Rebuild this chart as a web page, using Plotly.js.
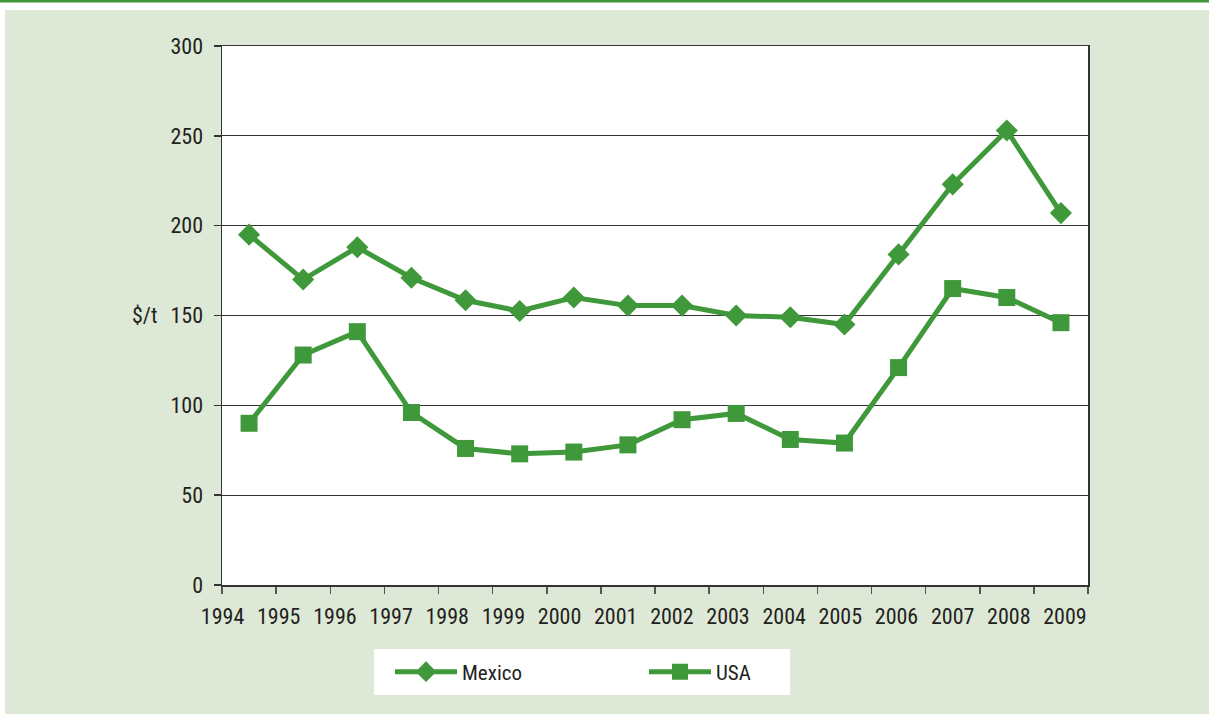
<!DOCTYPE html>
<html>
<head>
<meta charset="utf-8">
<script src="https://cdn.plot.ly/plotly-3.0.1.min.js"></script>
<style>html,body{margin:0;padding:0;background:#fff;}#chart{width:1209px;height:714px;}</style>
</head>
<body>
<div id="chart"></div>
<script>
const years = [1994,1995,1996,1997,1998,1999,2000,2001,2002,2003,2004,2005,2006,2007,2008,2009];
const mexico = [195,170,188,171,158.5,152.5,160,155.5,155.5,150,149,145,184,223,253,207];
const usa = [90,128,141,96,76,73,74,78,92,95.5,81,79,121,165,160,146];
const yTicks = [0,50,100,150,200,250,300];
const yLabel = "$/t";

const green = "#3f983a";
const bg = "#dde8d6";
const FONT = "'Liberation Sans Narrow', 'Arial Narrow', 'Roboto Condensed', 'Liberation Sans', Arial, sans-serif";

const L = 222, R = 121, T = 46, B = 129, W = 1209, H = 714;
const pw = W - L - R, ph = H - T - B;
const px = v => (v - L) / pw;
const py = v => (H - B - v) / ph;

const traces = [
  {x: years, y: mexico, name: "Mexico", type: "scatter", mode: "lines+markers",
   line: {color: green, width: 5}, marker: {symbol: "diamond", size: 17, color: green}},
  {x: years, y: usa, name: "USA", type: "scatter", mode: "lines+markers",
   line: {color: green, width: 5}, marker: {symbol: "square", size: 17, color: green}}
];

const boundaries = years.map(y => y - 0.5).concat([years[years.length-1] + 0.5]);
const TF = {family: FONT, size: 22, color: "#231f20"};
const LF = {family: FONT, size: 21, color: "#231f20"};

const layout = {
  width: W, height: H,
  margin: {l: L, r: R, t: T, b: B, pad: 0},
  paper_bgcolor: bg,
  plot_bgcolor: "#ffffff",
  font: TF,
  showlegend: true,
  legend: {orientation: "h", x: px(390), y: py(672), xanchor: "left", yanchor: "middle",
           bgcolor: "rgba(0,0,0,0)", font: LF, itemwidth: 62,
           entrywidth: 177, entrywidthmode: "pixels", traceorder: "normal"},
  xaxis: {range: [years[0] - 0.5, years[years.length-1] + 0.5], tickvals: boundaries,
          showticklabels: false, ticks: "outside", ticklen: 7, tickcolor: "#555", tickwidth: 1.5,
          showgrid: false, showline: true, linecolor: "#333", linewidth: 1.5, mirror: true, zeroline: false, fixedrange: true},
  xaxis2: {overlaying: "x", anchor: "y", side: "bottom", range: [1993.99, 1993.99 + 15.42],
           tickvals: years, ticktext: years.map(String), ticks: "outside", ticklen: 12,
           tickcolor: "rgba(0,0,0,0)", showgrid: false, showline: false, zeroline: false,
           tickfont: TF},
  yaxis: {range: [0, 300], tickvals: yTicks, ticks: "outside", ticklen: 7, tickcolor: "#333", tickwidth: 1.5,
          showgrid: true, gridcolor: "#333", gridwidth: 1, showline: true, linecolor: "#333", linewidth: 1.5,
          mirror: true, zeroline: false, ticklabelstandoff: 6, tickfont: TF},
  annotations: [
    {text: yLabel, xref: "paper", yref: "y", x: px(160), y: 150, xanchor: "right", yanchor: "middle",
     showarrow: false, font: TF}
  ],
  shapes: [
    {type: "rect", xref: "paper", yref: "paper", x0: px(0), x1: px(W), y0: py(10), y1: py(0),
     fillcolor: "#ffffff", line: {width: 0}, layer: "below"},
    {type: "rect", xref: "paper", yref: "paper", x0: px(0), x1: px(5), y0: py(H), y1: py(0),
     fillcolor: "#ffffff", line: {width: 0}, layer: "below"},
    {type: "rect", xref: "paper", yref: "paper", x0: px(0), x1: px(W), y0: py(2.5), y1: py(0),
     fillcolor: green, line: {width: 0}, layer: "below"},
    {type: "rect", xref: "paper", yref: "paper", x0: px(374), x1: px(790), y0: py(695), y1: py(649),
     fillcolor: "#ffffff", line: {width: 0}, layer: "below"}
  ]
};

traces.push({x: [years[0]], y: [null], xaxis: "x2", yaxis: "y", showlegend: false, hoverinfo: "skip", mode: "markers"});

Plotly.newPlot("chart", traces, layout, {displayModeBar: false, staticPlot: true});
</script>
</body>
</html>
